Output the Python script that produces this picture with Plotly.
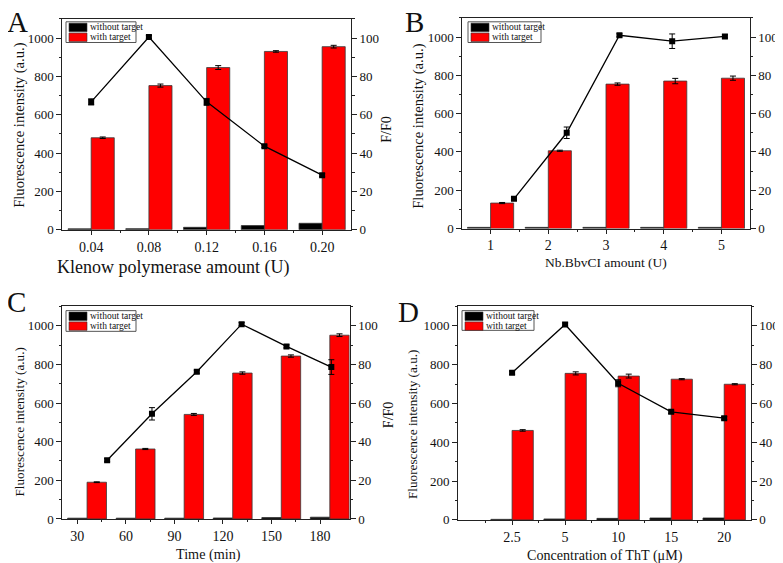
import plotly.graph_objects as go

# ---------------- data ----------------
series_without = "without target"
series_with = "with target"

A_labels = ["0.04", "0.08", "0.12", "0.16", "0.20"]
A_amount = [0.04, 0.08, 0.12, 0.16, 0.20]
A_without = [5, 6, 13, 22, 34]
A_with = [480, 752, 846, 930, 955]
A_with_err = [4, 8, 10, 4, 7]
A_ratio = [66.7, 100.5, 66.7, 43.6, 28.5]
A_ratio_err = [1.6, 0.8, 1.8, 0.6, 0.8]

B_labels = ["1", "2", "3", "4", "5"]
B_amount = [1, 2, 3, 4, 5]
B_without = [6, 6, 6, 6, 6]
B_with = [133, 406, 754, 770, 785]
B_with_err = [3, 3, 6, 14, 11]
B_ratio = [15.5, 50.0, 100.9, 97.8, 100.3]
B_ratio_err = [0.8, 3.0, 0.8, 3.8, 0.8]

C_labels = ["30", "60", "90", "120", "150", "180"]
C_time = [30, 60, 90, 120, 150, 180]
C_without = [4, 4, 4, 5, 7, 9]
C_with = [190, 362, 541, 755, 843, 951]
C_with_err = [2, 3, 5, 6, 6, 7]
C_ratio = [30.4, 54.4, 76.2, 100.8, 89.3, 78.6]
C_ratio_err = [0.8, 3.2, 0.8, 0.8, 0.8, 3.8]

D_labels = ["2.5", "5", "10", "15", "20"]
D_without = [3, 5, 8, 10, 10]
D_with = [461, 755, 741, 725, 699]
D_with_err = [4, 8, 10, 3, 3]
D_ratio = [75.8, 100.7, 70.4, 55.7, 52.4]
D_ratio_err = [0.8, 0.8, 1.8, 0.8, 0.8]

left_title = "Fluorescence intensity (a.u.)"
right_title = "F/F0"

# ---------------- layout helpers ----------------
W, H = 783, 563
FONT = "Liberation Serif"
TXT = "#111"


def px(x):
    return x / W


def py(y):
    return 1 - y / H


n_A, n_B, n_C, n_D = len(A_labels), len(B_labels), len(C_labels), len(D_labels)

panels = [
    dict(letter="A", box=(54.3, 11, 343, 225), pos=list(range(n_A)), labels=A_labels,
         tickvals=list(range(n_A)), minor=[i + 0.5 for i in range(n_A - 1)],
         xrange=[-0.5, n_A - 0.5], without=A_without, withv=A_with, with_err=A_with_err,
         line_x=A_amount, line_range=[0.02, 0.22], ratio=A_ratio, ratio_err=A_ratio_err,
         xtitle="Klenow polymerase amount (U)", xt=(165, 263, 18),
         yt=(12, 119.5, 14.6), rt=(378.5, 124, 14),
         letter_pos=(-3, -4), legend=(58, 14, 128, 35)),
    dict(letter="B", box=(454.3, 10, 741.7, 223.7), pos=list(range(n_B)), labels=B_labels,
         tickvals=list(range(n_B)), minor=[i + 0.5 for i in range(n_B - 1)],
         xrange=[-0.49, n_B - 0.51], without=B_without, withv=B_with, with_err=B_with_err,
         line_x=B_amount, line_range=[0.02, 5.47], ratio=B_ratio, ratio_err=B_ratio_err,
         xtitle="Nb.BbvCI amount (U)", xt=(598, 258, 13.5),
         yt=(410.5, 120, 14.6), rt=(771.5, 124, 13.5),
         letter_pos=(395, -4), legend=(460, 14, 533, 35)),
    dict(letter="C", box=(54.3, 302.7, 341.7, 518.3), pos=list(range(n_C)), labels=C_labels,
         tickvals=[i - 0.2 for i in range(n_C)], minor=[i + 0.3 for i in range(n_C - 1)],
         xrange=[-0.51, n_C - 0.59], without=C_without, withv=C_with, with_err=C_with_err,
         line_x=C_time, line_range=[0, 192.3], ratio=C_ratio, ratio_err=C_ratio_err,
         xtitle="Time (min)", xt=(200, 554, 14.2),
         yt=(11.5, 420, 13.2), rt=(380, 413, 14),
         letter_pos=(-3, 280), legend=(58, 307, 128, 328)),
    dict(letter="D", box=(450, 302.7, 742.7, 519.3), pos=[i + 1 for i in range(n_D)], labels=D_labels,
         tickvals=[i + 1 for i in range(n_D)], minor=[i + 0.5 for i in range(n_D)],
         xrange=[-0.02, n_D + 0.5], without=D_without, withv=D_with, with_err=D_with_err,
         line_x=[i + 1 for i in range(n_D)], line_range=[-0.02, n_D + 0.5],
         ratio=D_ratio, ratio_err=D_ratio_err,
         xtitle="Concentration of ThT (\u03bcM)", xt=(596.5, 555, 14.1),
         yt=(405, 423, 13.2), rt=(771.5, 422, 13.5),
         letter_pos=(388, 290), legend=(454, 307, 526, 327)),
]


def aid(n):
    return "" if n == 1 else str(n)


fig = go.Figure()
layout = dict(
    width=W, height=H, margin=dict(l=0, r=0, t=0, b=0),
    paper_bgcolor="white", plot_bgcolor="white", showlegend=False,
    barmode="overlay", font=dict(family=FONT, color=TXT),
)
shapes, annotations = [], []
AX = "#222"


def label(text, x, y, size, angle=0, xanchor="center", yanchor="middle"):
    annotations.append(dict(text=text, x=px(x), y=py(y), xref="paper", yref="paper",
                            xanchor=xanchor, yanchor=yanchor, showarrow=False, textangle=angle,
                            font=dict(size=size, family=FONT, color=TXT)))


for i, p in enumerate(panels):
    n, m = i + 1, i + 5
    xb, yb, xl, yr = "x" + aid(n), "y" + aid(n), "x" + aid(m), "y" + aid(m)
    x0, y0, x1, y1 = p["box"]

    fig.add_trace(go.Bar(
        x=p["pos"], y=p["without"], name=series_without, xaxis=xb, yaxis=yb,
        offset=-0.4, width=0.4,
        marker=dict(color="black", line=dict(color="#333", width=0.8))))
    fig.add_trace(go.Bar(
        x=p["pos"], y=p["withv"], name=series_with, xaxis=xb, yaxis=yb,
        offset=0.0, width=0.4,
        marker=dict(color="#ff0000", line=dict(color="#3a3a3a", width=0.8)),
        error_y=dict(type="data", array=p["with_err"], color="black", thickness=1, width=3)))
    fig.add_trace(go.Scatter(
        x=p["line_x"], y=p["ratio"], name=right_title, xaxis=xl, yaxis=yr,
        mode="lines+markers", line=dict(color="black", width=1.3),
        marker=dict(symbol="square", size=6, color="black"),
        error_y=dict(type="data", array=p["ratio_err"], color="black", thickness=1, width=3)))

    common_tick = dict(ticks="outside", tickcolor=AX, showline=True, linecolor=AX,
                       linewidth=1, showgrid=False, zeroline=False)
    layout["xaxis" + aid(n)] = dict(
        domain=[px(x0), px(x1)], anchor=yb, range=p["xrange"],
        tickmode="array", tickvals=p["tickvals"], ticktext=p["labels"], ticklen=4,
        mirror=True, tickfont=dict(size=14, family=FONT, color=TXT),
        minor=dict(tickmode="array", tickvals=p["minor"], ticks="outside", ticklen=2.5, tickcolor=AX),
        **common_tick)
    layout["yaxis" + aid(n)] = dict(
        domain=[py(y1), py(y0)], anchor=xb, range=[0, 1100],
        tickmode="array", tickvals=[0, 200, 400, 600, 800, 1000], ticklen=5,
        tickfont=dict(size=13, family=FONT, color=TXT),
        minor=dict(tickmode="linear", tick0=0, dtick=100, ticks="outside", ticklen=2.5, tickcolor=AX),
        **common_tick)
    layout["yaxis" + aid(m)] = dict(
        overlaying=yb, anchor=xb, side="right", range=[0, 110],
        tickmode="array", tickvals=[0, 20, 40, 60, 80, 100], ticklen=5,
        tickfont=dict(size=13, family=FONT, color=TXT),
        minor=dict(tickmode="linear", tick0=0, dtick=10, ticks="outside", ticklen=2.5, tickcolor=AX),
        **common_tick)
    layout["xaxis" + aid(m)] = dict(overlaying=xb, anchor=yb, range=p["line_range"], visible=False)

    # axis titles
    label(p["xtitle"], *p["xt"])
    label(left_title, *p["yt"], angle=-90)
    label(right_title, *p["rt"], angle=-90)

    # panel letter
    lx, ly = p["letter_pos"]
    label(p["letter"], lx, ly, 29, xanchor="left", yanchor="top")

    # legend box
    bx0, by0, bx1, by1 = p["legend"]
    shapes.append(dict(type="rect", xref="paper", yref="paper", x0=px(bx0), x1=px(bx1),
                       y0=py(by1), y1=py(by0), line=dict(color="#555", width=1), fillcolor="white"))
    for j, (nm, col) in enumerate([(series_without, "black"), (series_with, "#ff0000")]):
        sy0 = by0 + 1.4 + j * 10
        shapes.append(dict(type="rect", xref="paper", yref="paper",
                           x0=px(bx0 + 3), x1=px(bx0 + 21), y0=py(sy0 + 8.6), y1=py(sy0),
                           line=dict(color="#333", width=0.6), fillcolor=col))
        label(nm, bx0 + 22, sy0 + 4.3, 9.5, xanchor="left")

layout["shapes"] = shapes
layout["annotations"] = annotations
fig.update_layout(**layout)
fig.write_html("out.html")
